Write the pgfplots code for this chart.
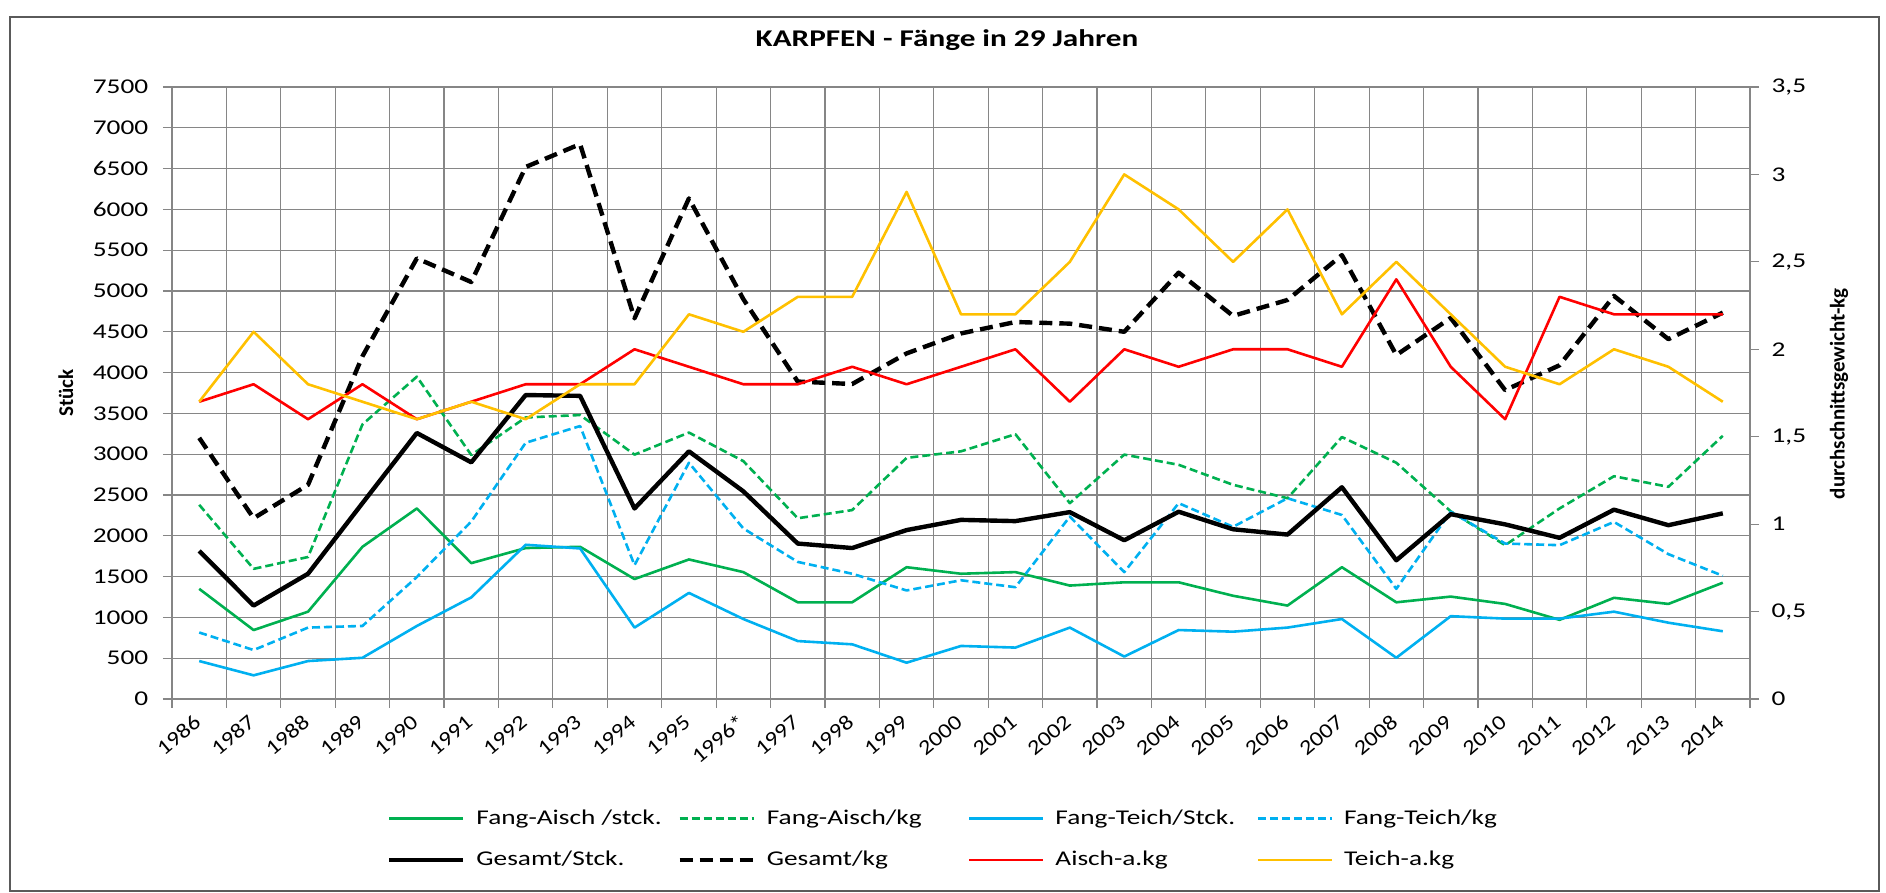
\documentclass[border=0pt]{standalone}
\usepackage{fontspec}
\setmainfont{Carlito}[FakeStretch=1.3]
\newfontfamily\plainfont{Carlito}
\newfontfamily\xtfont{Carlito}[FakeStretch=1.16]
\usepackage{pgfplots}
\pgfplotsset{compat=1.18}
\usepackage{pgfplotstable}
\definecolor{cgreen}{HTML}{00B050}
\definecolor{cblue}{HTML}{00B0F0}
\definecolor{cred}{HTML}{FF0000}
\definecolor{cyel}{HTML}{FFC000}
\definecolor{cgrid}{HTML}{868686}
\definecolor{cframe}{HTML}{5A5A5A}
\newcommand\tf{\fontsize{10.5}{12.6}\selectfont}

\pgfplotstableread{
i FA FAk FT FTk G Gk Ra Ta
0 1350 2380 465 815 1815 3200 1.7 1.7
1 845 1595 290 600 1145 2215 1.8 2.1
2 1070 1740 465 875 1535 2625 1.6 1.8
3 1865 3365 505 895 2400 4200 1.8 1.7
4 2335 3950 895 1495 3260 5400 1.6 1.6
5 1665 2990 1245 2175 2900 5110 1.7 1.7
6 1850 3450 1890 3140 3725 6520 1.8 1.6
7 1865 3480 1845 3345 3715 6800 1.8 1.8
8 1470 2995 875 1640 2335 4665 2.0 1.8
9 1710 3265 1300 2895 3035 6135 1.9 2.2
10 1555 2915 980 2090 2545 4900 1.8 2.1
11 1185 2215 710 1680 1905 3890 1.8 2.3
12 1185 2315 670 1535 1850 3860 1.9 2.3
13 1615 2955 445 1330 2070 4235 1.8 2.9
14 1535 3035 650 1455 2195 4480 1.9 2.2
15 1555 3245 630 1370 2180 4620 2.0 2.2
16 1390 2400 875 2235 2290 4600 1.7 2.5
17 1430 2995 520 1555 1945 4500 2.0 3.0
18 1430 2870 845 2400 2295 5225 1.9 2.8
19 1265 2625 825 2110 2080 4695 2.0 2.5
20 1145 2460 875 2460 2015 4890 2.0 2.8
21 1615 3210 980 2255 2595 5440 1.9 2.2
22 1185 2895 505 1350 1700 4215 2.4 2.5
23 1255 2300 1015 2295 2265 4670 1.9 2.2
24 1165 1885 985 1905 2140 3785 1.6 1.9
25 970 2335 985 1885 1975 4090 2.3 1.8
26 1240 2730 1070 2170 2320 4940 2.2 2.0
27 1165 2600 935 1775 2130 4410 2.2 1.9
28 1425 3225 830 1510 2275 4735 2.2 1.7
}\data

\pgfplotsset{
  base/.style={
    width=789pt, height=306pt, scale only axis,
    xmin=-0.5, xmax=28.5,
    tick align=outside, major tick length=4.5pt,
    tick style={draw=cgrid, line width=0.6pt},
    axis line style={draw=cgrid, line width=0.6pt},
    /pgf/number format/1000 sep={},
    every tick label/.append style={font=\tf, text=black},
  },
  sG/.style={cgreen, line width=1.3pt, line join=round},
  sGd/.style={cgreen, line width=1.3pt, line join=round, dash pattern=on 4pt off 2pt},
  sB/.style={cblue, line width=1.3pt, line join=round},
  sBd/.style={cblue, line width=1.3pt, line join=round, dash pattern=on 4pt off 2pt},
  sK/.style={black, line width=2.2pt, line join=round},
  sKd/.style={black, line width=2.2pt, line join=round, dash pattern=on 6.5pt off 3.5pt},
  sR/.style={cred, line width=1.3pt, line join=round},
  sY/.style={cyel, line width=1.3pt, line join=round},
}

\begin{document}
\begin{tikzpicture}
\begin{axis}[base,
  ymin=0, ymax=7500,
  xtick={-0.5,0.5,...,28.5}, xticklabels={},
  extra x ticks={0,1,...,28},
  extra x tick labels={1986,1987,1988,1989,1990,1991,1992,1993,1994,1995,1996*,1997,1998,1999,2000,2001,2002,2003,2004,2005,2006,2007,2008,2009,2010,2011,2012,2013,2014},
  extra x tick style={grid=none, major tick length=0pt,
    xticklabel style={font=\xtfont\fontsize{10.5}{12.6}\selectfont, rotate=40, anchor=east, inner sep=0pt, xshift=-7pt, yshift=-7.2pt}},
  ytick={0,500,...,7500},
  yticklabels={0,500,1000,1500,2000,2500,3000,3500,4000,4500,5000,5500,6000,6500,7000,7500},
  grid=major,
  grid style={draw=cgrid, line width=0.6pt},
  tick pos=left,
  yticklabel style={anchor=east, inner sep=0pt, xshift=-7.2pt},
  ylabel={Stück},
  every axis y label/.style={at={(axis description cs:-0.0672,0.5)}, rotate=90, anchor=center, font=\plainfont\bfseries\fontsize{10.5}{12.6}\selectfont},
]
\addplot[sG] table[x=i, y=FA] {\data};
\addplot[sGd] table[x=i, y=FAk] {\data};
\addplot[sB] table[x=i, y=FT] {\data};
\addplot[sBd] table[x=i, y=FTk] {\data};
\addplot[sK] table[x=i, y=G] {\data};
\addplot[sKd] table[x=i, y=Gk] {\data};
\end{axis}
\begin{axis}[base,
  ymin=0, ymax=3.5,
  axis x line=none, axis y line*=right,
  ytick={0,0.5,...,3.5},
  yticklabels={0,{0,5},1,{1,5},2,{2,5},3,{3,5}},
  yticklabel style={anchor=west, inner sep=0pt, xshift=6.1pt},
  ylabel={durchschnittsgewicht-kg},
  every axis y label/.style={at={(axis description cs:1.0564,0.499)}, rotate=90, anchor=center, font=\plainfont\bfseries\fontsize{10.5}{12.6}\selectfont},
  legend columns=4,
  legend style={at={(0.5032,-0.2288)}, anchor=center, draw=none, fill=none,
    column sep=0pt, row sep=12pt, font=\tf, nodes={inner sep=0pt}},
  legend cell align=left,
  legend image code/.code={\draw[#1] (0pt,0pt) -- (37pt,0pt);},
]
\addlegendimage{sG}
\addlegendentry{\hspace*{5.5pt}\makebox[100.5pt][l]{Fang-Aisch /stck.}}
\addlegendimage{sGd}
\addlegendentry{\hspace*{5.5pt}\makebox[100.5pt][l]{Fang-Aisch/kg}}
\addlegendimage{sB}
\addlegendentry{\hspace*{5.5pt}\makebox[100.5pt][l]{Fang-Teich/Stck.}}
\addlegendimage{sBd}
\addlegendentry{\hspace*{5.5pt}\makebox[100.5pt][l]{Fang-Teich/kg}}
\addlegendimage{sK}
\addlegendentry{\hspace*{5.5pt}\makebox[100.5pt][l]{Gesamt/Stck.}}
\addlegendimage{sKd}
\addlegendentry{\hspace*{5.5pt}\makebox[100.5pt][l]{Gesamt/kg}}
\addplot[sR] table[x=i, y=Ra] {\data};
\addlegendentry{\hspace*{5.5pt}\makebox[100.5pt][l]{Aisch-a.kg}}
\addplot[sY] table[x=i, y=Ta] {\data};
\addlegendentry{\hspace*{5.5pt}\makebox[100.5pt][l]{Teich-a.kg}}
\end{axis}
\node[font=\bfseries\fontsize{12}{14}\selectfont, anchor=center] at (387.5pt,329.5pt) {KARPFEN - Fänge in 29 Jahren};
\draw[cframe, line width=0.75pt] (-81pt,-96pt) rectangle (853.5pt,341pt);
\pgfresetboundingbox
\path (-86pt,-97pt) rectangle (857pt,349.5pt);
\end{tikzpicture}
\end{document}
